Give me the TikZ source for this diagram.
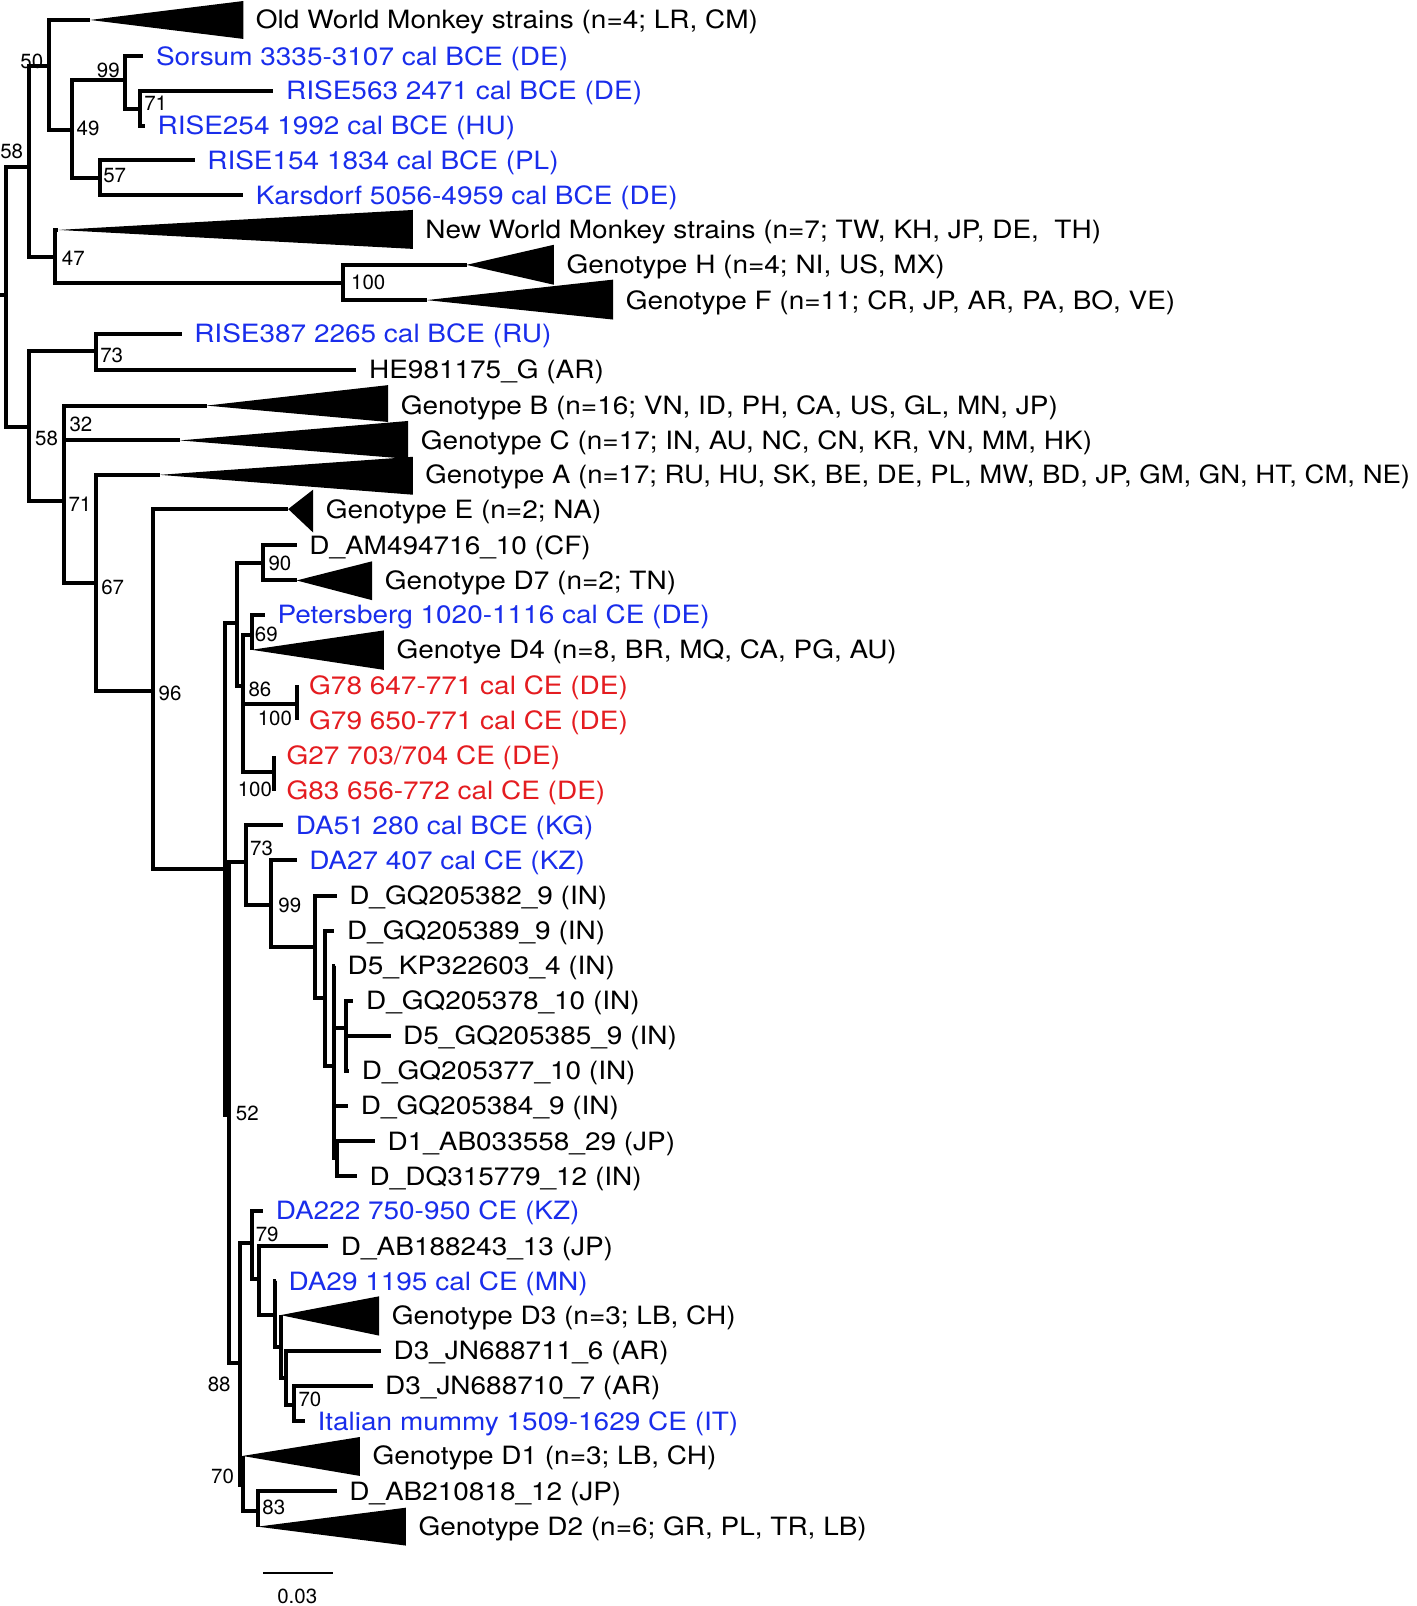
\documentclass[tikz,border=0pt]{standalone}
\usepackage{graphicx}
\usepackage{fontspec}
\setmainfont{TeX Gyre Heros}
\newfontfamily\leaffont{TeX Gyre Heros}[FakeStretch=1.11]

\definecolor{ancblue}{RGB}{25,45,235}
\definecolor{ancred}{RGB}{228,28,32}

\tikzset{
  branch/.style={line width=1.95pt, line join=miter},
  leaf/.style={anchor=west, inner xsep=6pt, inner ysep=0pt, text height=8.8pt, text depth=0pt,
    font=\leaffont\fontsize{12.3}{14}\selectfont},
  boot/.style={inner sep=0pt, font=\fontsize{10}{12}\selectfont},
  scalebar/.style={line width=1.3pt}
}

\begin{document}
\begin{tikzpicture}[x=0.5pt, y=-0.5pt]
  \useasboundingbox (0,0) rectangle (1383,1568);

  % collapsed clades
  \foreach \nm/\ax/\ay/\rx/\ty/\by/\txt in {
      owm/88/19.5/237.5/1/38/{Old World Monkey strains (n=4; LR, CM)},
      nwm/57/224.5/403/205/243/{New World Monkey strains (n=7; TW, KH, JP, DE,\ \ TH)},
      genH/455.5/258.6/540.7/239/278/{Genotype H (n=4; NI, US, MX)},
      genF/416.5/293/598.6/273/312/{Genotype F (n=11; CR, JP, AR, PA, BO, VE)},
      genB/201.7/396/379/376/412/{Genotype B (n=16; VN, ID, PH, CA, US, GL, MN, JP)},
      genC/175.7/430/398.5/411/448/{Genotype C (n=17; IN, AU, NC, CN, KR, VN, MM, HK)},
      genA/156/463.6/403/446/483/{\scalebox{0.984}[1]{Genotype A (n=17; RU, HU, SK, BE, DE, PL, MW, BD, JP, GM, GN, HT, CM, NE)}},
      genE/281.4/497/305.8/478/520/{Genotype E (n=2; NA)},
      genDseven/289.6/566.7/363.4/548/586/{Genotype D7 (n=2; TN)},
      genDfour/245.6/634.4/374.8/615.5/654/{Genotye D4 (n=8, BR, MQ, CA, PG, AU)},
      genDthree/274/1284/370.2/1265.6/1304/{Genotype D3 (n=3; LB, CH)},
      genDone/236.8/1421.5/351.4/1403/1441/{Genotype D1 (n=3; LB, CH)},
      genDtwo/251.5/1490.5/396.3/1472/1509/{Genotype D2 (n=6; GR, PL, TR, LB)}}
  {
    \coordinate (\nm A) at (\ax,\ay);
    \fill (\nm A) -- (\rx,\ty) -- (\rx,\by) -- cycle;
    \node[leaf] (\nm) at (\rx,\ay) {\txt};
  }

  % leaves
  \node[leaf, ancblue] (sorsum) at (140,55) {Sorsum 3335-3107 cal BCE (DE)};
  \node[leaf, ancblue] (rise563) at (267,88.5) {RISE563 2471 cal BCE (DE)};
  \node[leaf, ancblue] (rise254) at (141.5,123) {RISE254 1992 cal BCE (HU)};
  \node[leaf, ancblue] (rise154) at (190,156.5) {RISE154 1834 cal BCE (PL)};
  \node[leaf, ancblue] (karsdorf) at (237.5,190.5) {Karsdorf 5056-4959 cal BCE (DE)};
  \node[leaf, ancblue] (rise387) at (177.3,326) {RISE387 2265 cal BCE (RU)};
  \node[leaf] (he981175) at (348,361) {HE981175\_G (AR)};
  \node[leaf] (dam494716) at (289.6,532.5) {D\_AM494716\_10 (CF)};
  \node[leaf, ancblue] (petersberg) at (258.6,600) {Petersberg 1020-1116 cal CE (DE)};
  \node[leaf, ancred] (g78) at (289.5,669) {G78 647-771 cal CE (DE)};
  \node[leaf, ancred] (g79) at (289.5,703) {G79 650-771 cal CE (DE)};
  \node[leaf, ancred] (g27) at (267.4,738) {G27 703/704 CE (DE)};
  \node[leaf, ancred] (g83) at (267.4,772) {G83 656-772 cal CE (DE)};
  \node[leaf, ancblue] (da51) at (276.5,805.5) {DA51 280 cal BCE (KG)};
  \node[leaf, ancblue] (da27) at (289.6,840) {DA27 407 cal CE (KZ)};
  \node[leaf] (gq382) at (328.6,874.5) {D\_GQ205382\_9 (IN)};
  \node[leaf] (gq389) at (326.5,908.5) {D\_GQ205389\_9 (IN)};
  \node[leaf] (kp322603) at (327,942.8) {D5\_KP322603\_4 (IN)};
  \node[leaf] (gq378) at (345,977) {D\_GQ205378\_10 (IN)};
  \node[leaf] (gq385) at (381.3,1011) {D5\_GQ205385\_9 (IN)};
  \node[leaf] (gq377) at (341,1045.5) {D\_GQ205377\_10 (IN)};
  \node[leaf] (gq384) at (340,1079.7) {D\_GQ205384\_9 (IN)};
  \node[leaf] (ab033558) at (366,1114) {D1\_AB033558\_29 (JP)};
  \node[leaf] (dq315779) at (348.5,1148.3) {D\_DQ315779\_12 (IN)};
  \node[leaf, ancblue] (da222) at (257,1182) {DA222 750-950 CE (KZ)};
  \node[leaf] (ab188243) at (320.5,1216.5) {D\_AB188243\_13 (JP)};
  \node[leaf, ancblue] (da29) at (269.5,1251) {DA29 1195 cal CE (MN)};
  \node[leaf] (jn711) at (371.9,1319) {D3\_JN688711\_6 (AR)};
  \node[leaf] (jn710) at (363.7,1353) {D3\_JN688710\_7 (AR)};
  \node[leaf, ancblue] (mummy) at (297.7,1387.5) {Italian mummy 1509-1629 CE (IT)};
  \node[leaf] (ab210818) at (328.6,1456) {D\_AB210818\_12 (JP)};

  % internal nodes
  \coordinate (stub) at (0,288);
  \coordinate (root) at (5.9,288);
  \coordinate (n58a) at (28.6,162.7);
  \coordinate (n50) at (48,64);
  \coordinate (n49) at (70,127);
  \coordinate (n99a) at (122,78);
  \coordinate (n71a) at (137,106);
  \coordinate (n57) at (97.6,174);
  \coordinate (n47) at (53.7,250.5);
  \coordinate (n100a) at (335,276.5);
  \coordinate (n58b) at (28.6,416.5);
  \coordinate (n73a) at (93.4,343);
  \coordinate (n71b) at (62.5,489.6);
  \coordinate (n32) at (62.5,413);
  \coordinate (n67) at (93.7,569.3);
  \coordinate (n96) at (149.6,675);
  \coordinate (nD) at (220,848.4);
  \coordinate (nDa) at (231.6,608.4);
  \coordinate (n90) at (257,549.2);
  \coordinate (n86) at (237.5,670.2);
  \coordinate (n69) at (245.6,619.8);
  \coordinate (nG78) at (289.5,687);
  \coordinate (nG27) at (267.4,754);
  \coordinate (n52) at (223.5,1089);
  \coordinate (n73b) at (239.8,842);
  \coordinate (n99b) at (264.2,883.3);
  \coordinate (nQ1) at (307.4,924.6);
  \coordinate (nQ2) at (317.2,974.3);
  \coordinate (nQ3) at (326,1040.4);
  \coordinate (nQ4) at (337.4,1003.6);
  \coordinate (nQ5) at (328.6,1131);
  \coordinate (n88) at (234.2,1330.6);
  \coordinate (n79) at (246.3,1213.5);
  \coordinate (nX) at (252.8,1248.6);
  \coordinate (nY) at (268.4,1283.4);
  \coordinate (nZ) at (274,1315);
  \coordinate (nW) at (279.1,1345.3);
  \coordinate (n70a) at (287,1371.3);
  \coordinate (n70b) at (236.8,1449.4);
  \coordinate (n83) at (251.5,1475.3);

  % branches
  \draw[branch] (stub) -- (root);
  \draw[branch] (root) |- (n58a) (root) |- (n58b);
  \draw[branch] (n58a) |- (n50) (n58a) |- (n47);
  \draw[branch] (n50) |- (owmA) (n50) |- (n49);
  \draw[branch] (n49) |- (n99a) (n49) |- (n57);
  \draw[branch] (n99a) |- (sorsum.west) (n99a) |- (n71a);
  \draw[branch] (n71a) |- (rise563.west) (n71a) |- (rise254.west);
  \draw[branch] (n57) |- (rise154.west) (n57) |- (karsdorf.west);
  \draw[branch] (n47) |- (nwmA) (n47) |- (n100a);
  \draw[branch] (n100a) |- (genHA) (n100a) |- (genFA);
  \draw[branch] (n58b) |- (n73a) (n58b) |- (n71b);
  \draw[branch] (n73a) |- (rise387.west) (n73a) |- (he981175.west);
  \draw[branch] (n71b) |- (n32) (n71b) |- (n67);
  \draw[branch] (n32) |- (genBA) (n32) |- (genCA);
  \draw[branch] (n67) |- (genAA) (n67) |- (n96);
  \draw[branch] (n96) |- (genEA) (n96) |- (nD);
  \draw[branch] (nD) |- (nDa) (nD) |- (n52);
  \draw[branch] (nDa) |- (n90) (nDa) |- (n86);
  \draw[branch] (n90) |- (dam494716.west) (n90) |- (genDsevenA);
  \draw[branch] (n86) |- (n69) (n86) |- (nG78) (n86) |- (nG27);
  \draw[branch] (n69) |- (petersberg.west) (n69) |- (genDfourA);
  \draw[branch] (nG78) |- (g78.west) (nG78) |- (g79.west);
  \draw[branch] (nG27) |- (g27.west) (nG27) |- (g83.west);
  \draw[branch] (n52) |- (n73b) (n52) |- (n88);
  \draw[branch] (n73b) |- (da51.west) (n73b) |- (n99b);
  \draw[branch] (n99b) |- (da27.west) (n99b) |- (nQ1);
  \draw[branch] (nQ1) |- (gq382.west) (nQ1) |- (nQ2);
  \draw[branch] (nQ2) |- (gq389.west) (nQ2) |- (nQ3);
  \draw[branch] (nQ3) |- (kp322603.west) (nQ3) |- (nQ4) (nQ3) |- (gq384.west) (nQ3) |- (nQ5);
  \draw[branch] (nQ4) |- (gq378.west) (nQ4) |- (gq385.west) (nQ4) |- (gq377.west);
  \draw[branch] (nQ5) |- (ab033558.west) (nQ5) |- (dq315779.west);
  \draw[branch] (n88) |- (n79) (n88) |- (n70b);
  \draw[branch] (n79) |- (da222.west) (n79) |- (nX);
  \draw[branch] (nX) |- (ab188243.west) (nX) |- (nY);
  \draw[branch] (nY) |- (da29.west) (nY) |- (nZ);
  \draw[branch] (nZ) |- (genDthreeA) (nZ) |- (nW);
  \draw[branch] (nW) |- (jn711.west) (nW) |- (n70a);
  \draw[branch] (n70a) |- (jn710.west) (n70a) |- (mummy.west);
  \draw[branch] (n70b) |- (genDoneA) (n70b) |- (n83);
  \draw[branch] (n83) |- (ab210818.west) (n83) |- (genDtwoA);

  % bootstrap values
  \foreach \bx/\by/\bv [count=\i] in {11.4/148/58, 31/60/50, 105.7/68.3/99, 152/101/71,
      86/125/49, 112/171/57, 71.6/252/47, 359.5/276/100, 109/346.5/73, 45.5/427.8/58,
      79/414.8/32, 78/492/71, 110/573/67, 166/676.7/96, 273.3/549.8/90, 260/619.8/69,
      253.8/673.4/86, 268.4/701/100, 248.9/771/100, 255.4/828/73, 283/884.3/99,
      241.4/1086.6/52, 260.9/1205.4/79, 214/1351.8/88, 302.6/1366.4/70, 217.3/1441.2/70,
      267.4/1472.1/83}
    \node[boot] (bs\i) at (\bx,\by) {\bv};

  % scale bar
  \coordinate (sbl) at (257,1535.6);
  \coordinate (sbr) at (324.7,1535.6);
  \draw[scalebar] (sbl) -- (sbr);
  \node[boot] (sblab) at (290.2,1558.3) {0.03};
\end{tikzpicture}
\end{document}
